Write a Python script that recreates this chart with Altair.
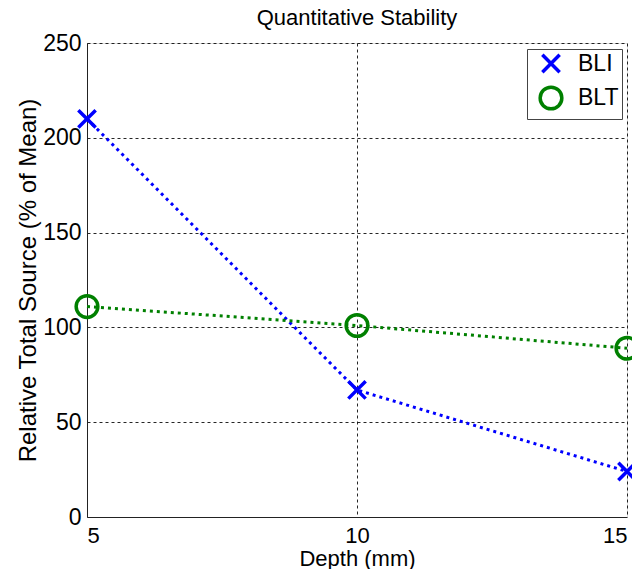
import altair as alt
import pandas as pd

depth = [5, 10, 15]
bli = [210, 67, 24]
blt = [111, 101, 89]
series_names = ["BLI", "BLT"]
series_colors = ["#0000ff", "#008000"]
x_ticks = [5, 10, 15]
y_ticks = [0, 50, 100, 150, 200, 250]

rows = []
for name, vals in zip(series_names, [bli, blt]):
    for d, v in zip(depth, vals):
        rows.append({"Depth": d, "Value": v, "Series": name})
df = pd.DataFrame(rows)

FONT = "Liberation Sans"

color_scale = alt.Scale(domain=series_names, range=series_colors)
shape_scale = alt.Scale(domain=series_names, range=["M-1,-1L1,1M-1,1L1,-1", "circle"])
size_scale = alt.Scale(domain=series_names, range=[300, 470])

legend = alt.Legend(title=None, orient="none", legendX=440, legendY=6,
                    fillColor="white", strokeColor="#444", padding=3,
                    labelFontSize=23, labelFont=FONT, labelColor="#000",
                    symbolSize=300, symbolStrokeWidth=3.5, rowPadding=0,
                    labelOffset=14, offset=0, symbolOffset=8)

x_enc = alt.X(
    "Depth:Q",
    scale=alt.Scale(domain=[5, 15], nice=False, zero=False),
    axis=alt.Axis(values=x_ticks, title="Depth (mm)", format="d", grid=True,
                  gridDash=[3, 3], gridColor="#000000", gridWidth=1, gridOpacity=0.85,
                  ticks=True, tickSize=5, tickOpacity=0, labelFontSize=22,
                  titleFontSize=22, labelPadding=3,
                  titlePadding=2, labelColor="#000", titleColor="#000",
                  titleFontWeight="normal", domainColor="#222", labelFont=FONT, titleFont=FONT),
)
y_enc = alt.Y(
    "Value:Q",
    scale=alt.Scale(domain=[0, 250], nice=False),
    axis=alt.Axis(values=y_ticks, title="Relative Total Source (% of Mean)", grid=True,
                  gridDash=[3, 3], gridColor="#000000", gridWidth=1, gridOpacity=0.85,
                  ticks=False, labelFontSize=23, titleFontSize=24, labelPadding=6,
                  titlePadding=2, labelColor="#000", titleColor="#000",
                  titleFontWeight="normal", domainColor="#222", labelFont=FONT, titleFont=FONT),
)

base = alt.Chart(df)

lines = base.mark_line(strokeWidth=3, strokeDash=[3, 4]).encode(
    x=x_enc, y=y_enc,
    color=alt.Color("Series:N", scale=color_scale, legend=legend),
    detail="Series:N",
)

points = base.mark_point(filled=False, strokeWidth=3.5, opacity=1).encode(
    x=x_enc, y=y_enc,
    color=alt.Color("Series:N", scale=color_scale, legend=legend),
    shape=alt.Shape("Series:N", scale=shape_scale, legend=legend),
    size=alt.Size("Series:N", scale=size_scale, legend=None),
)

chart = (
    alt.layer(lines, points)
    .properties(
        width=540,
        height=474,
        title=alt.TitleParams("Quantitative Stability", fontSize=22, fontWeight="normal",
                              font=FONT, color="#000", offset=2),
        autosize=alt.AutoSizeParams(type="none"),
        padding={"left": 79, "top": 35, "right": 5, "bottom": 52},
    )
    .configure_view(stroke="#222", strokeWidth=1)
    .configure(background="white")
)

chart.save("out.html", embed_options={"renderer": "svg", "actions": False})
